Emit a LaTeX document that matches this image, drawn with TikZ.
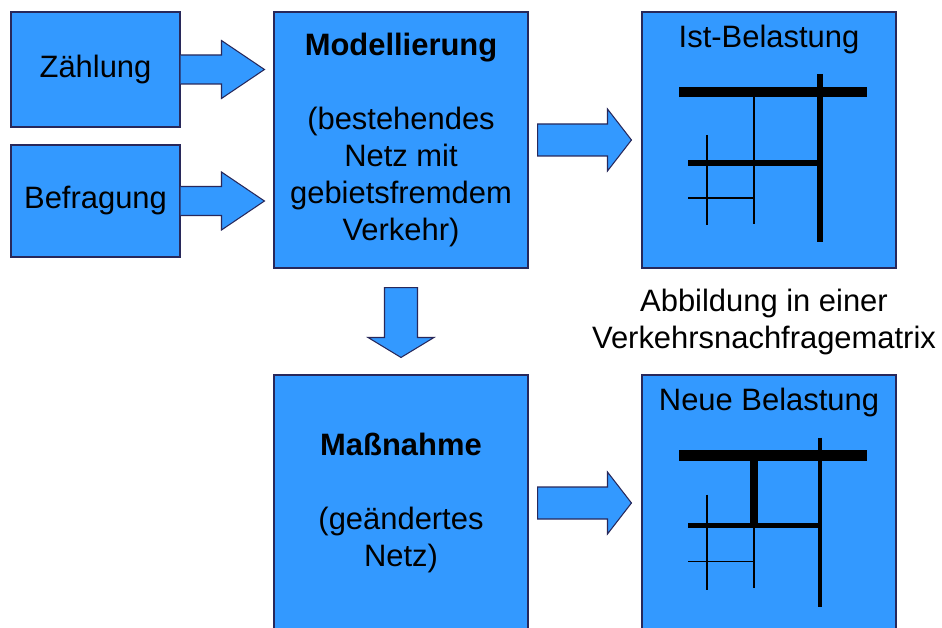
\documentclass[tikz,border=0pt]{standalone}
\usepackage{fontspec}
\setmainfont{Liberation Sans}
\usetikzlibrary{calc}
\definecolor{boxblue}{RGB}{51,153,255}
\definecolor{boxline}{RGB}{40,40,90}
% block arrow from #2 (tail) to #3 (tip): shaft half width #4, head half width #5, head length #6
\newcommand\blockarrow[6][-- cycle]{%
 \coordinate (arrowbase) at ($(#3)!#6!(#2)$);
 \filldraw[blockarrow] ($(#2)!#4!90:(#3)$) -- ($(arrowbase)!#4!90:(#3)$)
  -- ($(arrowbase)!#5!90:(#3)$) -- (#3) -- ($(arrowbase)!#5!-90:(#3)$)
  -- ($(arrowbase)!#4!-90:(#3)$) -- ($(#2)!#4!-90:(#3)$) #1;}
\begin{document}
\begin{tikzpicture}[font=\fontsize{17.6}{21}\selectfont,
 box/.style={draw=boxline,fill=boxblue,line width=0.6pt,align=center,inner sep=0pt},
 bigbox/.style={box,minimum width=5.08cm,minimum height=5.12cm},
 blockarrow/.style={draw=boxline,fill=boxblue,line width=0.6pt,line join=miter},
 road/.style={draw=black,line width=#1,line cap=butt}]
\useasboundingbox (0,0) rectangle (18.84,-12.56);
\node[box,minimum width=3.38cm,minimum height=2.3cm] (zaehlung) at (1.91,-1.39) {Zählung};
\node[box,minimum width=3.38cm,minimum height=2.24cm] (befragung) at (1.91,-4.02) {Befragung};
\node[bigbox] (modell) at (8.02,-2.8) {\textbf{Modellierung}\\[21pt](bestehendes\\Netz mit\\gebietsfremdem\\Verkehr)};
\node[bigbox] (massnahme) at (8.02,-10.06) {\textbf{Maßnahme}\\[21pt](geändertes\\Netz)};
\node[bigbox] (ist) at (15.38,-2.8) {};
\node[bigbox] (neue) at (15.38,-10.06) {};
\node (istTitle) at ($(ist.north)+(0,-0.56)$) {Ist-Belastung};
\node (neueTitle) at ($(neue.north)+(0,-0.56)$) {Neue Belastung};
\node[align=center] (matrixNote) at (15.28,-6.44) {Abbildung in einer\\Verkehrsnachfragematrix};
% road network, current load
\begin{scope}[shift={(ist.center)}]
\draw[road=5.7pt] (-1.8,0.96)--(1.96,0.96);
\draw[road=3.4pt] (1.02,1.32)--(1.02,-2.04);
\draw[road=1.1pt] (-0.3,0.96)--(-0.3,-1.68);
\draw[road=3.4pt] (-1.62,-0.46)--(1.02,-0.46);
\draw[road=0.6pt] (-1.24,0.1)--(-1.24,-1.7);
\draw[road=0.6pt] (-1.62,-1.16)--(-0.3,-1.16);
\end{scope}
% road network, new load
\begin{scope}[shift={(neue.center)}]
\draw[road=5.7pt] (-1.8,0.95)--(1.96,0.95);
\draw[road=2.3pt] (1.02,1.31)--(1.02,-2.07);
\draw[road=4.5pt] (-0.3,0.95)--(-0.3,-0.43);
\draw[road=1.1pt] (-0.3,-0.43)--(-0.3,-1.69);
\draw[road=2.8pt] (-1.62,-0.45)--(1.02,-0.45);
\draw[road=0.6pt] (-1.24,0.17)--(-1.24,-1.73);
\draw[road=0.6pt] (-1.62,-1.17)--(-0.3,-1.17);
\end{scope}
% arrows
\coordinate (zTip) at ($(modell.west |- zaehlung.east)+(-0.18,0)$);
\coordinate (bTip) at ($(modell.west |- befragung.east)+(-0.18,0)$);
\coordinate (istTail) at ($(modell.east)+(0.18,0)$);
\coordinate (istTip) at ($(ist.west)+(-0.2,0)$);
\coordinate (neueTail) at ($(massnahme.east)+(0.18,0)$);
\coordinate (neueTip) at ($(neue.west)+(-0.2,0)$);
\coordinate (downTail) at ($(modell.south)+(0,-0.38)$);
\coordinate (downTip) at ($(massnahme.north)+(0,0.34)$);
\blockarrow[]{zaehlung.east}{zTip}{0.29cm}{0.58cm}{0.86cm}
\blockarrow[]{befragung.east}{bTip}{0.29cm}{0.58cm}{0.86cm}
\blockarrow{istTail}{istTip}{0.32cm}{0.62cm}{0.48cm}
\blockarrow{neueTail}{neueTip}{0.32cm}{0.62cm}{0.48cm}
\blockarrow{downTail}{downTip}{0.33cm}{0.66cm}{0.4cm}
\end{tikzpicture}
\end{document}
